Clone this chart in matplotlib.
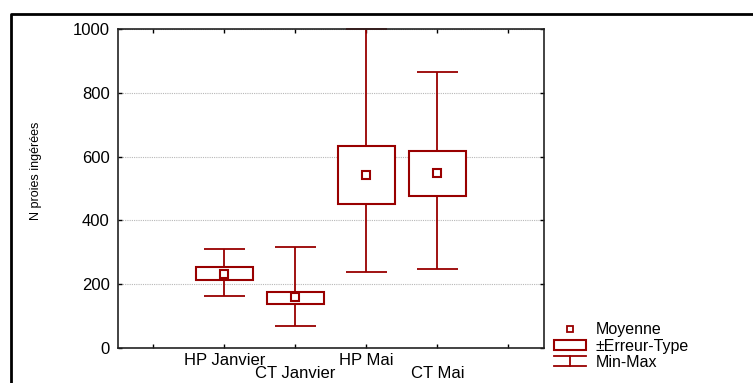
import matplotlib.pyplot as plt
import numpy as np
from matplotlib.lines import Line2D
from matplotlib.patches import Rectangle
from matplotlib.legend_handler import HandlerBase

plt.rcParams['font.family'] = ['Liberation Sans', 'DejaVu Sans']

# Values
categories = ['HP Janvier', 'CT Janvier', 'HP Mai', 'CT Mai']
means = np.array([232, 158, 543, 549])
se_low = np.array([214, 137, 452, 477])
se_high = np.array([254, 174, 632, 619])
mins = np.array([161, 68, 238, 246])
maxs = np.array([311, 315, 1000, 866])

red = '#990000'
x = np.arange(len(categories)) + 2


class MinMaxHandler(HandlerBase):
    def create_artists(self, legend, orig_handle, xdescent, ydescent,
                       width, height, fontsize, trans):
        x0, x1 = -xdescent, -xdescent + width
        y0, y1 = -ydescent, -ydescent + height
        xm = (x0 + x1) / 2
        segs = [([x0, x1], [y1, y1]), ([x0, x1], [y0, y0]), ([xm, xm], [y0, y1])]
        out = []
        for xs, ys in segs:
            ln = Line2D(xs, ys, color=orig_handle.get_color(),
                        lw=orig_handle.get_linewidth(), transform=trans)
            out.append(ln)
        return out


fig = plt.figure(figsize=(7.53, 3.83), dpi=100)
ax = fig.add_axes([0.1567, 0.0922, 0.5657, 0.8313])

# whiskers (min-max)
ax.vlines(x, mins, maxs, color=red, lw=1.3, zorder=2)
ax.hlines(mins, x - 0.29, x + 0.29, color=red, lw=1.3, zorder=2)
ax.hlines(maxs, x - 0.29, x + 0.29, color=red, lw=1.3, zorder=2, clip_on=False)
# boxes (standard error)
ax.bar(x, se_high - se_low, bottom=se_low, width=0.8, facecolor='white',
       edgecolor=red, lw=1.5, zorder=3)
# means
ax.plot(x, means, ls='none', marker='s', ms=6, mfc='white', mec=red,
        mew=1.5, zorder=4)

ax.set_xlim(0.5, 6.5)
ax.set_ylim(0, 1000)
ax.set_yticks(np.arange(0, 1001, 200))
ax.set_xticks(np.arange(1, 7))
ax.set_xticklabels([''] + categories + [''])
ax.tick_params(direction='in', length=3, top=True, right=True,
               labelsize=12, width=1)
ax.tick_params(axis='y', pad=6)
ax.tick_params(axis='x', pad=4)
for t in ax.xaxis.get_major_ticks()[2::2]:
    t.set_pad(13.5)

ax.set_axisbelow(True)
ax.yaxis.grid(True, color='#b8b8b8', ls=(0, (1, 1)), lw=0.8)
for s in ax.spines.values():
    s.set_linewidth(1.2)
    s.set_color('#222222')

ax.set_ylabel('N proies ingérées', fontsize=9)
ax.yaxis.set_label_coords(-0.178, 0.555)

handles = [
    Line2D([], [], ls='none', marker='s', ms=5, mfc='white', mec=red, mew=1.3),
    Rectangle((0, 0), 1, 1, facecolor='white', edgecolor=red, lw=1.5),
    Line2D([], [], color=red, lw=1.3),
]
labels = ['Moyenne', '±Erreur-Type', 'Min-Max']
fig.legend(handles, labels, loc='upper left', bbox_to_anchor=(0.736, 0.158),
           frameon=False, fontsize=11.5, labelspacing=0.07, handlelength=2.0,
           handleheight=0.65, handletextpad=0.6, borderpad=0, borderaxespad=0,
           handler_map={handles[2]: MinMaxHandler()})

# outer frame
fig.add_artist(Line2D([0.0146, 0.0146, 1.0], [0.0, 0.963, 0.963],
                      transform=fig.transFigure, color='black', lw=2))

fig.savefig('out.png', dpi=100)
